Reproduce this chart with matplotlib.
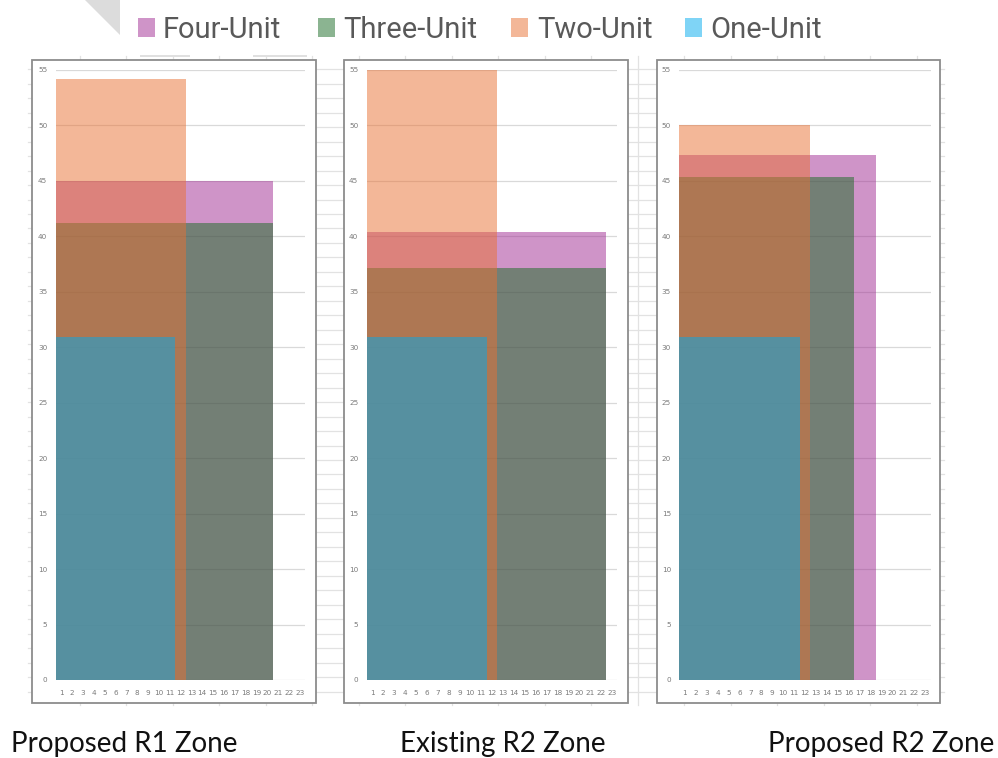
import matplotlib
matplotlib.use("Agg")
import matplotlib.pyplot as plt
from matplotlib.patches import Rectangle, Polygon
from matplotlib.lines import Line2D

# ---------------- data ----------------
categories = list(range(1, 24))
zones = ["Proposed R1 Zone", "Existing R2 Zone", "Proposed R2 Zone"]
series_names = ["Four-Unit", "Three-Unit", "Two-Unit", "One-Unit"]

# building heights per zone (ft)
four_height = [45.0, 40.4, 47.3]
three_height = [41.2, 37.1, 45.3]
two_height = [54.2, 55.0, 50.0]
one_height = [30.9, 30.9, 30.9]

# footprint length per zone (number of category units)
four_width = [20, 22, 18]
three_width = [20, 22, 16]
two_width = [12, 12, 12]
one_width = [11, 11, 11]

y_ticks = list(range(0, 56, 5))

# ---------------- styles ----------------
colors = {"Four-Unit": "#A02B93", "Three-Unit": "#196B24",
          "Two-Unit": "#E97132", "One-Unit": "#00AAEE"}
ALPHA = 0.5

W, H = 998, 758
fig = plt.figure(figsize=(W / 100, H / 100), dpi=100)

# background (pixel coordinates)
bg = fig.add_axes([0, 0, 1, 1])
bg.set_xlim(0, W)
bg.set_ylim(H, 0)
bg.axis("off")
bg.set_zorder(-5)

grid_c = "#e2e2e2"
y = 69.3
while y < 705:
    bg.add_line(Line2D([28, 944], [y, y], color=grid_c, lw=0.9, zorder=1))
    y += 14.47
x = 80.0
while x < 944:
    bg.add_line(Line2D([x, x], [56, 705], color=grid_c, lw=0.9, zorder=1))
    x += 46.5

# chart boxes
boxes = [(32, 60, 316, 703), (344, 60, 628, 703), (657, 60, 940, 703)]
for (x0, y0, x1, y1) in boxes:
    bg.add_patch(Rectangle((x0, y0), x1 - x0, y1 - y0, facecolor="white",
                           edgecolor="#8c8c8c", lw=1.3, zorder=3))

# white legend strip + decorative shapes
bg.add_patch(Rectangle((0, 0), W, 55, facecolor="white", edgecolor="none", zorder=2))
bg.add_patch(Polygon([(85, 0), (120, 0), (120, 35)], closed=True,
                     facecolor="#dcdcdc", edgecolor="none", zorder=4))
for (xa, xb) in [(140, 190), (253, 307)]:
    bg.add_patch(Rectangle((xa, 55), xb - xa, 2.2, facecolor="#e0e0e0",
                           edgecolor="none", zorder=4))

# legend
swatch_x = [138, 318, 511, 685]
text_x = [163, 343, 537, 710]
for name, sx, tx in zip(series_names, swatch_x, text_x):
    bg.add_patch(Rectangle((sx, 18), 17.5, 19, facecolor=colors[name],
                           alpha=ALPHA, edgecolor="none", zorder=5))
    bg.text(tx, 37.5, name, fontsize=21, color="#595959", family="Roboto",
            va="baseline", ha="left", zorder=6)

# panels
plot_x = [(55.7, 305.3), (366.7, 617.3), (679.3, 930.7)]
top_px, bot_px = 69.7, 680.0
title_cx = [124, 503, 881]

for i, zone in enumerate(zones):
    l, r = plot_x[i]
    ax = fig.add_axes([l / W, 1 - bot_px / H, (r - l) / W, (bot_px - top_px) / H])
    ax.set_zorder(2)
    ax.patch.set_alpha(0)
    data = [("Four-Unit", four_height[i], four_width[i]),
            ("Three-Unit", three_height[i], three_width[i]),
            ("Two-Unit", two_height[i], two_width[i]),
            ("One-Unit", one_height[i], one_width[i])]
    for name, h, w in data:
        ax.bar(categories[0] - 0.5, h, width=w, align="edge",
               color=colors[name], alpha=ALPHA, linewidth=0, zorder=3)
    ax.set_xlim(categories[0] - 0.5, categories[-1] + 0.5)
    ax.set_ylim(0, 55)
    ax.set_xticks(categories)
    ax.set_xticklabels([str(c) for c in categories])
    ax.set_yticks(y_ticks)
    ax.set_yticklabels([str(t) for t in y_ticks])
    ax.tick_params(axis="both", length=0, labelsize=5.2, colors="#7a7a7a")
    ax.tick_params(axis="y", pad=6)
    ax.tick_params(axis="x", pad=7)
    for s in ax.spines.values():
        s.set_visible(False)
    ax.yaxis.grid(True, color="#d9d9d9", lw=0.9)
    ax.set_axisbelow(True)

    fig.text(title_cx[i] / W, 1 - 752 / H, zone, fontsize=20, family="Lato",
             color="#111111", ha="center", va="baseline")

fig.savefig("out.png", dpi=100)
